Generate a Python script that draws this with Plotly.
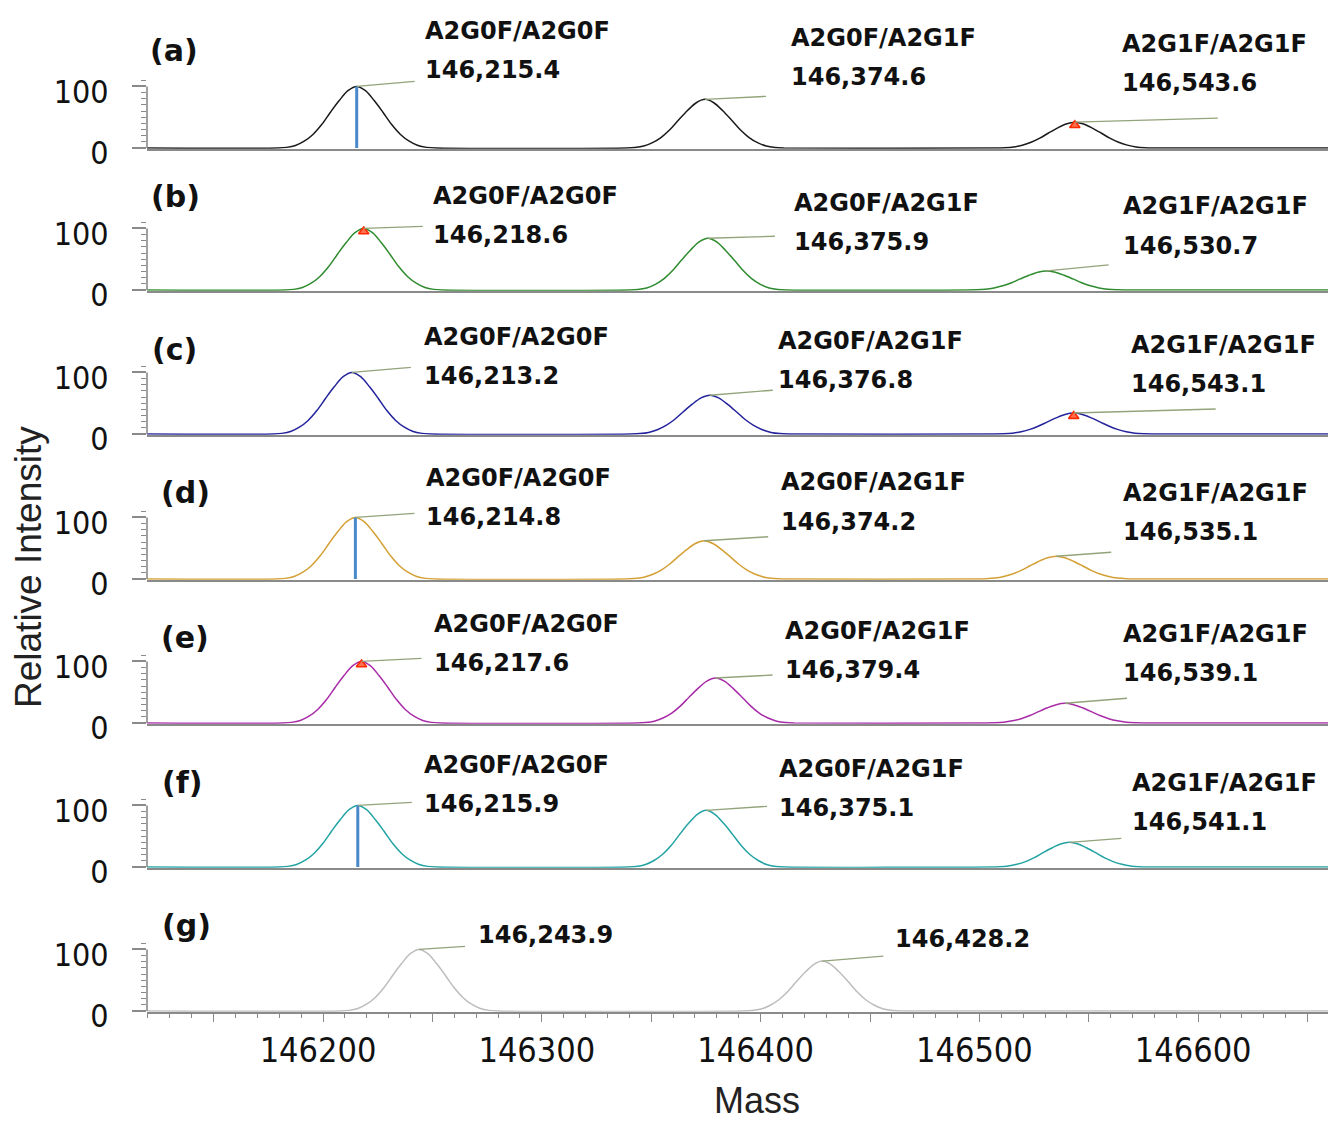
import plotly.graph_objects as go

# ---------------- data ----------------
panel_tags = ['(a)', '(b)', '(c)', '(d)', '(e)', '(f)', '(g)']
line_colors = ['#1a1a1a', '#2e8b2e', '#23239c', '#d4a035', '#a82ca8', '#23a3a3', '#bdbdbd']

glycoform_names = [
    ['A2G0F/A2G0F', 'A2G0F/A2G1F', 'A2G1F/A2G1F'],
    ['A2G0F/A2G0F', 'A2G0F/A2G1F', 'A2G1F/A2G1F'],
    ['A2G0F/A2G0F', 'A2G0F/A2G1F', 'A2G1F/A2G1F'],
    ['A2G0F/A2G0F', 'A2G0F/A2G1F', 'A2G1F/A2G1F'],
    ['A2G0F/A2G0F', 'A2G0F/A2G1F', 'A2G1F/A2G1F'],
    ['A2G0F/A2G0F', 'A2G0F/A2G1F', 'A2G1F/A2G1F'],
    ['', ''],
]
peak_mass = [
    [146215.4, 146374.6, 146543.6],
    [146218.6, 146375.9, 146530.7],
    [146213.2, 146376.8, 146543.1],
    [146214.8, 146374.2, 146535.1],
    [146217.6, 146379.4, 146539.1],
    [146215.9, 146375.1, 146541.1],
    [146243.9, 146428.2],
]
peak_height = [
    [100, 79, 42],
    [100, 84, 31],
    [100, 63, 34],
    [100, 62, 37],
    [100, 73, 32],
    [100, 92, 40],
    [100, 81],
]
# peak profile (offset in Da, % of apex)
profile_offset = [-36, -32, -28, -24, -20, -16, -12, -8, -4, 0, 4, 8, 12, 16, 20, 24, 28, 32, 36]
profile_rel = [0, 1, 4, 11, 22, 38, 58, 77, 93, 100, 93, 77, 58, 38, 22, 11, 4, 1, 0]

# which peaks carry a centroid stick / a red apex marker (panel index, peak index)
stick_peaks = [(0, 0), (3, 0), (5, 0)]
marker_peaks = [(0, 2), (1, 0), (2, 2), (4, 0)]

mass_tick_values = [146150, 146200, 146250, 146300, 146350, 146400, 146450, 146500, 146550, 146600, 146650]
mass_tick_labels = ['', '146200', '', '146300', '', '146400', '', '146500', '', '146600', '']
y_tick_values = [0, 100]
y_tick_labels = ['0', '100']

# ---------------- layout (pixels, measured in the reference picture) ----------------
OFF = 0                      # page body margin is removed by the post script
W, H = 1328, 1121
LEFT_REF = 147
PX_PER_DA = 2.188
TICK_REF_PX = 323            # reference x pixel of mass 146200
X_RANGE = [146200 - (TICK_REF_PX - LEFT_REF) / PX_PER_DA,
           146200 + (1328 - TICK_REF_PX) / PX_PER_DA]
PX_PER_UNIT = 0.616
Y_RANGE = [-1.2, 110]
baselines_ref = [148, 290, 434, 579, 723, 867, 1011]

# label offsets relative to apex, pixels: (text dx, mass-line up)
label_offsets = [
    [(66, 16), (84, 22), (45, 39)],
    [(67, -7), (84, -4), (74, 25)],
    [(70, -4), (66, 15), (55, 29)],
    [(69, 0), (75, 19), (65, 24)],
    [(70, -2), (67, 8), (56, 30)],
    [(64, 1), (71, 2), (61, 20)],
    [(57, 14), (71, 22)],
]
leader_offsets = [
    [(58, 5), (61, 3), (143, 4)],
    [(59, 2), (67, 2), (62, 6)],
    [(59, 5), (63, 5), (142, 4)],
    [(59, 4), (64, 4), (55, 4)],
    [(60, 3), (57, 3), (62, 5)],
    [(54, 3), (61, 4), (52, 4)],
    [(46, 3), (61, 5)],
]
tag_pos = [(174, 98), (175, 94), (174, 85), (185, 87), (185, 86), (182, 85), (186, 86)]

GRAY = '#8a8a8a'
LEADER = '#93a37a'
TICKFONT = 'DejaVu Sans Condensed, sans-serif'
LABELFONT = 'DejaVu Sans, sans-serif'
LEFT = LEFT_REF - OFF


def px2x(px_ref):
    return (px_ref - OFF - LEFT) / (W - LEFT)


def px2y(py_ref):
    return 1 - (py_ref - OFF) / H


fig = go.Figure()
layout = dict(
    width=W, height=H,
    margin=dict(l=LEFT, r=0, t=0, b=0, autoexpand=False),
    paper_bgcolor='white', plot_bgcolor='white',
    showlegend=False,
)
shapes = []
annotations = []
npan = len(panel_tags)
for i in range(npan):
    n = '' if i == 0 else str(i + 1)
    xa, ya = 'x' + n, 'y' + n
    base = baselines_ref[i]
    top = base - Y_RANGE[1] * PX_PER_UNIT
    bottom = base - Y_RANGE[0] * PX_PER_UNIT
    is_bottom = (i == npan - 1)

    # spectrum trace
    xs = [X_RANGE[0]]
    ys = [0]
    for m, h in zip(peak_mass[i], peak_height[i]):
        for off, rel in zip(profile_offset, profile_rel):
            xs.append(m + off)
            ys.append(h * rel / 100.0)
    xs.append(X_RANGE[1])
    ys.append(0)
    fig.add_trace(go.Scatter(x=xs, y=ys, mode='lines', xaxis=xa, yaxis=ya,
                             line=dict(color=line_colors[i], width=1.5, shape='spline', smoothing=0.9),
                             hoverinfo='skip'))

    xaxis = dict(domain=[0, 1], range=X_RANGE, anchor=ya, showline=True, linecolor=GRAY, linewidth=1.6,
                 showgrid=False, zeroline=False, fixedrange=True)
    if is_bottom:
        xaxis.update(tickmode='array', tickvals=mass_tick_values, ticktext=mass_tick_labels,
                     ticks='outside', ticklen=8, tickwidth=1.3, tickcolor=GRAY,
                     minor=dict(tickmode='linear', tick0=146100, dtick=10, ticks='outside',
                                ticklen=4, tickwidth=1, tickcolor=GRAY),
                     tickfont=dict(family=TICKFONT, size=34, color='#111111'),
                     ticklabelshift=-5, ticklabelstandoff=0)
    else:
        xaxis.update(showticklabels=False, ticks='')
    layout['xaxis' + n] = xaxis
    layout['yaxis' + n] = dict(
        domain=[px2y(bottom), px2y(top)], range=Y_RANGE, anchor=xa,
        showline=False, showgrid=False, zeroline=False, fixedrange=True,
        tickmode='array', tickvals=y_tick_values, ticktext=y_tick_labels,
        ticks='outside', ticklen=14, tickwidth=1.5, tickcolor=GRAY,
        minor=dict(tickmode='linear', tick0=0, dtick=10, ticks='outside', ticklen=5,
                   tickwidth=1, tickcolor=GRAY),
        tickfont=dict(family=TICKFONT, size=32, color='#111111'),
        ticklabelshift=5, ticklabelstandoff=17,
    )
    # y axis line only from 0 to 100
    shapes.append(dict(type='line', xref=xa + ' domain', yref=ya, x0=0, x1=0,
                       y0=y_tick_values[0], y1=y_tick_values[-1], line=dict(color=GRAY, width=1.6)))

    # leader lines and labels
    for j, (m, h) in enumerate(zip(peak_mass[i], peak_height[i])):
        ldx, lup = leader_offsets[i][j]
        shapes.append(dict(type='line', xref=xa, yref=ya,
                           xsizemode='pixel', xanchor=m, x0=0, x1=ldx,
                           ysizemode='pixel', yanchor=h, y0=0, y1=lup,
                           line=dict(color=LEADER, width=1.4)))
        tdx, tup = label_offsets[i][j]
        annotations.append(dict(xref=xa, yref=ya, x=m, y=h, xanchor='left', yanchor='middle',
                                xshift=tdx, yshift=tup, showarrow=False,
                                text='<b>{:,.1f}</b>'.format(m),
                                font=dict(family=LABELFONT, size=24, color='#111111')))
        if glycoform_names[i][j]:
            annotations.append(dict(xref=xa, yref=ya, x=m, y=h, xanchor='left', yanchor='middle',
                                    xshift=tdx, yshift=tup + 39.5, showarrow=False,
                                    text='<b>' + glycoform_names[i][j] + '</b>',
                                    font=dict(family=LABELFONT, size=24, color='#111111')))

    # panel tag
    tx, tup = tag_pos[i]
    annotations.append(dict(xref='paper', yref='paper', x=px2x(tx), y=px2y(base - tup),
                            xanchor='center', yanchor='middle', showarrow=False,
                            text='<b>' + panel_tags[i] + '</b>',
                            font=dict(family=LABELFONT, size=30, color='#111111')))

# centroid sticks
for (i, j) in stick_peaks:
    n = '' if i == 0 else str(i + 1)
    m = peak_mass[i][j]
    fig.add_trace(go.Scatter(x=[m, m], y=[0, peak_height[i][j]], mode='lines',
                             xaxis='x' + n, yaxis='y' + n,
                             line=dict(color='#4a88cc', width=3), hoverinfo='skip'))

# red apex markers
for (i, j) in marker_peaks:
    n = '' if i == 0 else str(i + 1)
    fig.add_trace(go.Scatter(x=[peak_mass[i][j]], y=[peak_height[i][j] - 5], mode='markers',
                             xaxis='x' + n, yaxis='y' + n, cliponaxis=False,
                             marker=dict(symbol='triangle-up', size=9, color='#ff7050',
                                         line=dict(color='#ff2a00', width=1.6)),
                             hoverinfo='skip'))

# axis titles
annotations.append(dict(xref='paper', yref='paper', x=px2x(28), y=px2y(567), showarrow=False,
                        text='Relative Intensity', textangle=-90, xanchor='center', yanchor='middle',
                        font=dict(family='Liberation Sans, Arial, sans-serif', size=37, color='#222222')))
annotations.append(dict(xref='paper', yref='paper', x=px2x(757), y=0, showarrow=False,
                        text='Mass', xanchor='center', yanchor='bottom', yshift=-2,
                        font=dict(family='Liberation Sans, Arial, sans-serif', size=36, color='#222222')))

layout['shapes'] = shapes
layout['annotations'] = annotations
fig.update_layout(**layout)
fig.write_html('out.html', config={'displayModeBar': False},
               post_script="document.body.style.margin='0px';document.body.style.overflow='hidden';")
